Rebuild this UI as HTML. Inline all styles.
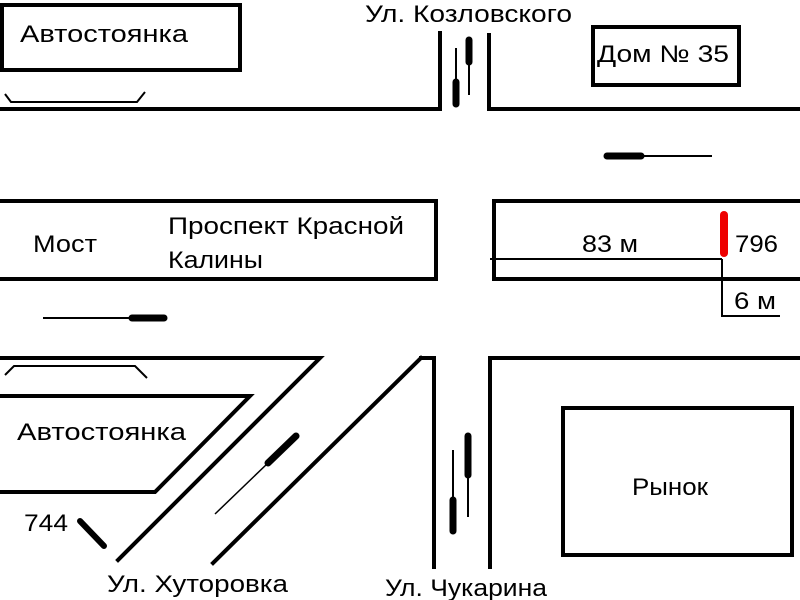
<!DOCTYPE html>
<html><head><meta charset="utf-8"><style>
html,body{margin:0;padding:0;background:#fff;width:800px;height:600px;overflow:hidden}
text{font-family:"Liberation Sans","DejaVu Sans",sans-serif;font-size:24px;fill:#000}
</style></head><body>
<svg width="800" height="600" viewBox="0 0 800 600" xmlns="http://www.w3.org/2000/svg">
<g fill="none" stroke="#000" stroke-width="4" stroke-linecap="square">
<rect x="2" y="5" width="238" height="65"/>
<polyline points="440,33 440,109 0,109"/>
<polyline points="489,35 489,109 800,109"/>
<rect x="593" y="27" width="146" height="58"/>
<rect x="-5" y="201" width="441" height="78"/>
<polyline points="800,201 494,201 494,279 800,279"/>
<polyline points="0,358 320,358 118,560"/>
<polyline points="0,396 250,396 155,492 0,492"/>
<polyline points="421,358 434,358 434,567"/>
<line x1="421" y1="358" x2="213" y2="563"/>
<polyline points="490,567 490,358 800,358"/>
<rect x="563" y="408" width="229" height="147"/>
</g>
<g fill="none" stroke="#000" stroke-width="2">
<polyline points="5,94 11,102 137,102 145,92"/>
<polyline points="5,375 14,366 135,366 147,378"/>
<line x1="456" y1="48" x2="456" y2="106"/><line x1="469" y1="37" x2="469" y2="95"/>
<line x1="642" y1="156" x2="712" y2="156"/>
<line x1="43" y1="318" x2="130" y2="318"/>
<line x1="215" y1="514" x2="268" y2="463" stroke-width="1.5"/>
<line x1="453" y1="450" x2="453" y2="533"/><line x1="468" y1="433" x2="468" y2="517"/>
<line x1="490" y1="259" x2="722" y2="259"/>
<polyline points="722,259 722,316 780,316"/>
</g>
<g stroke="#000" stroke-width="7" stroke-linecap="round">
<line x1="456" y1="82" x2="456" y2="104"/><line x1="469" y1="40" x2="469" y2="62"/>
<line x1="607" y1="156" x2="641" y2="156"/>
<line x1="132" y1="318" x2="164" y2="318"/>
<line x1="268" y1="463" x2="296" y2="436"/>
<line x1="453" y1="500" x2="453" y2="531"/><line x1="468" y1="436" x2="468" y2="475"/>
<line x1="80" y1="521" x2="104" y2="546" stroke-width="6"/>
</g>
<line x1="724" y1="215" x2="724" y2="253" stroke="#e00" stroke-width="8" stroke-linecap="round"/>
<g lengthAdjust="spacingAndGlyphs">
<text x="20" y="42" textLength="168" lengthAdjust="spacingAndGlyphs">Автостоянка</text>
<text x="365" y="22" textLength="207" lengthAdjust="spacingAndGlyphs">Ул. Козловского</text>
<text x="597" y="62" textLength="132" lengthAdjust="spacingAndGlyphs">Дом № 35</text>
<text x="33" y="252" textLength="64" lengthAdjust="spacingAndGlyphs">Мост</text>
<text x="168" y="234" textLength="236" lengthAdjust="spacingAndGlyphs">Проспект Красной</text>
<text x="168" y="268" textLength="95" lengthAdjust="spacingAndGlyphs">Калины</text>
<text x="582" y="252" textLength="56" lengthAdjust="spacingAndGlyphs">83 м</text>
<text x="735" y="252" textLength="43" lengthAdjust="spacingAndGlyphs">796</text>
<text x="734" y="309" textLength="42" lengthAdjust="spacingAndGlyphs">6 м</text>
<text x="17" y="440" textLength="169" lengthAdjust="spacingAndGlyphs">Автостоянка</text>
<text x="24" y="531" textLength="44" lengthAdjust="spacingAndGlyphs">744</text>
<text x="632" y="495" textLength="76" lengthAdjust="spacingAndGlyphs">Рынок</text>
<text x="107" y="592" textLength="181" lengthAdjust="spacingAndGlyphs">Ул. Хуторовка</text>
<text x="385" y="596" textLength="162" lengthAdjust="spacingAndGlyphs">Ул. Чукарина</text>
</g>
</svg>
</body></html>
